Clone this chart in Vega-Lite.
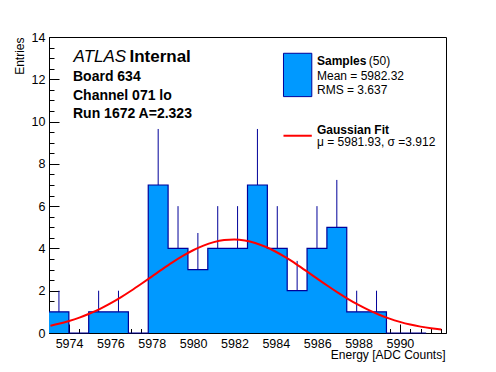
{
  "$schema": "https://vega.github.io/schema/vega-lite/v6.json",
  "width": 397,
  "height": 296,
  "autosize": {"type": "none"},
  "padding": {"left": 49, "top": 37, "right": 50, "bottom": 39},
  "background": "white",
  "config": {
    "view": {"stroke": "black", "strokeWidth": 1},
    "font": "Liberation Sans",
    "axis": {"grid": false, "domainColor": "black", "tickColor": "black", "labelColor": "black", "titleColor": "black", "labelFont": "Liberation Sans", "titleFont": "Liberation Sans"}
  },
  "resolve": {"axis": {"x": "independent", "y": "independent"}},
  "datasets": {
    "bins": [
      {"lo": 5973.03, "hi": 5973.99, "mid": 5973.51, "count": 1, "up": 2},
      {"lo": 5973.99, "hi": 5974.95, "mid": 5974.47, "count": 0, "up": 0},
      {"lo": 5974.95, "hi": 5975.91, "mid": 5975.43, "count": 1, "up": 2},
      {"lo": 5975.91, "hi": 5976.87, "mid": 5976.39, "count": 1, "up": 2},
      {"lo": 5976.87, "hi": 5977.83, "mid": 5977.35, "count": 0, "up": 0},
      {"lo": 5977.83, "hi": 5978.79, "mid": 5978.31, "count": 7, "up": 9.65},
      {"lo": 5978.79, "hi": 5979.75, "mid": 5979.27, "count": 4, "up": 6},
      {"lo": 5979.75, "hi": 5980.71, "mid": 5980.23, "count": 3, "up": 4.73},
      {"lo": 5980.71, "hi": 5981.67, "mid": 5981.19, "count": 4, "up": 6},
      {"lo": 5981.67, "hi": 5982.63, "mid": 5982.15, "count": 4, "up": 6},
      {"lo": 5982.63, "hi": 5983.59, "mid": 5983.11, "count": 7, "up": 9.65},
      {"lo": 5983.59, "hi": 5984.55, "mid": 5984.07, "count": 4, "up": 6},
      {"lo": 5984.55, "hi": 5985.51, "mid": 5985.03, "count": 2, "up": 3.41},
      {"lo": 5985.51, "hi": 5986.47, "mid": 5985.99, "count": 4, "up": 6},
      {"lo": 5986.47, "hi": 5987.43, "mid": 5986.95, "count": 5, "up": 7.24},
      {"lo": 5987.43, "hi": 5988.39, "mid": 5987.91, "count": 1, "up": 2},
      {"lo": 5988.39, "hi": 5989.35, "mid": 5988.87, "count": 1, "up": 2},
      {"lo": 5989.35, "hi": 5990.31, "mid": 5989.83, "count": 0, "up": 0},
      {"lo": 5990.31, "hi": 5991.27, "mid": 5990.79, "count": 0, "up": 0},
      {"lo": 5991.27, "hi": 5992.23, "mid": 5991.75, "count": 0, "up": 0}
    ],
    "fit": [
      {"x": 5973.1, "y": 0.346}, {"x": 5973.5, "y": 0.434}, {"x": 5974.0, "y": 0.567},
      {"x": 5974.5, "y": 0.728}, {"x": 5975.0, "y": 0.921}, {"x": 5975.5, "y": 1.145},
      {"x": 5976.0, "y": 1.401}, {"x": 5976.5, "y": 1.687}, {"x": 5977.0, "y": 1.998},
      {"x": 5977.5, "y": 2.328}, {"x": 5978.0, "y": 2.668}, {"x": 5978.5, "y": 3.010},
      {"x": 5979.0, "y": 3.339}, {"x": 5979.5, "y": 3.645}, {"x": 5980.0, "y": 3.913},
      {"x": 5980.5, "y": 4.134}, {"x": 5981.0, "y": 4.297}, {"x": 5981.5, "y": 4.393},
      {"x": 5982.0, "y": 4.419}, {"x": 5982.5, "y": 4.373}, {"x": 5983.0, "y": 4.258},
      {"x": 5983.5, "y": 4.078}, {"x": 5984.0, "y": 3.843}, {"x": 5984.5, "y": 3.562},
      {"x": 5985.0, "y": 3.248}, {"x": 5985.5, "y": 2.915}, {"x": 5986.0, "y": 2.573},
      {"x": 5986.5, "y": 2.234}, {"x": 5987.0, "y": 1.909}, {"x": 5987.5, "y": 1.604},
      {"x": 5988.0, "y": 1.326}, {"x": 5988.5, "y": 1.079}, {"x": 5989.0, "y": 0.863},
      {"x": 5989.5, "y": 0.680}, {"x": 5990.0, "y": 0.527}, {"x": 5990.5, "y": 0.401},
      {"x": 5991.0, "y": 0.301}, {"x": 5991.5, "y": 0.222}, {"x": 5992.0, "y": 0.161}
    ]
  },
  "layer": [
    {
      "data": {"name": "bins"},
      "mark": {"type": "area", "fill": "#0099ff", "interpolate": "step-after"},
      "encoding": {
        "x": {"field": "lo", "type": "quantitative",
          "scale": {"domain": [5973.03, 5992.23], "nice": false, "zero": false},
          "axis": {
            "orient": "bottom",
            "title": "Energy [ADC Counts]",
            "values": [5974, 5976, 5978, 5980, 5982, 5984, 5986, 5988, 5990],
            "format": "d",
            "tickSize": -9,
            "labelPadding": 13,
            "labelFontSize": 12.5,
            "labelOverlap": false,
            "labelFlush": false,
            "titleFontSize": 12,
            "titleFontWeight": "normal",
            "titleAlign": "right",
            "titleAnchor": "end",
            "titleBaseline": "alphabetic",
            "titleX": 396,
            "titleY": 25.5
          }
        },
        "y": {"field": "count", "type": "quantitative",
          "scale": {"domain": [0, 14], "nice": false},
          "axis": {
            "orient": "left",
            "title": "Entries",
            "values": [0, 2, 4, 6, 8, 10, 12, 14],
            "tickSize": -10,
            "labelPadding": 14,
            "labelFontSize": 12.5,
            "labelOverlap": false,
            "labelFlush": false,
            "titleFontSize": 12,
            "titleFontWeight": "normal",
            "titleAngle": 270,
            "titleAlign": "right",
            "titleBaseline": "alphabetic",
            "titleX": -25.5,
            "titleY": 0
          }
        },
        "y2": {"datum": 0}
      }
    },
    {
      "data": {"name": "bins"},
      "transform": [{"filter": "datum.count > 0"}],
      "mark": {"type": "rule", "color": "#000099", "strokeWidth": 1},
      "encoding": {
        "x": {"field": "mid", "type": "quantitative",
          "axis": {"orient": "bottom", "values": [5973.5, 5974.5, 5975, 5975.5, 5976.5, 5977, 5977.5, 5978.5, 5979, 5979.5, 5980.5, 5981, 5981.5, 5982.5, 5983, 5983.5, 5984.5, 5985, 5985.5, 5986.5, 5987, 5987.5, 5988.5, 5989, 5989.5, 5990.5, 5991, 5991.5, 5992], "tickSize": -4.5, "labels": false, "domain": false, "title": null}},
        "y": {"field": "count", "type": "quantitative",
          "axis": {"orient": "left", "values": [0.5, 1, 1.5, 2.5, 3, 3.5, 4.5, 5, 5.5, 6.5, 7, 7.5, 8.5, 9, 9.5, 10.5, 11, 11.5, 12.5, 13, 13.5], "tickSize": -5, "labels": false, "domain": false, "title": null}},
        "y2": {"field": "up"}
      }
    },
    {
      "data": {"name": "bins"},
      "mark": {"type": "line", "color": "#000099", "strokeWidth": 1.2, "interpolate": "step-after"},
      "encoding": {
        "x": {"field": "lo", "type": "quantitative", "axis": null},
        "y": {"field": "count", "type": "quantitative", "axis": null}
      }
    },
    {
      "data": {"name": "fit"},
      "mark": {"type": "line", "color": "#ff0000", "strokeWidth": 2, "interpolate": "monotone"},
      "encoding": {
        "x": {"field": "x", "type": "quantitative", "axis": null},
        "y": {"field": "y", "type": "quantitative", "axis": null}
      }
    },
    {
      "data": {"values": [{"t": "ATLAS"}]},
      "mark": {"type": "text", "align": "left", "baseline": "alphabetic", "fontSize": 17, "fontStyle": "italic", "font": "Liberation Sans", "color": "black"},
      "encoding": {"text": {"field": "t"}, "x": {"datum": 5974.22, "type": "quantitative", "axis": null}, "y": {"datum": 12.82, "type": "quantitative", "axis": null}}
    },
    {
      "data": {"values": [{"t": "Internal"}]},
      "mark": {"type": "text", "align": "left", "baseline": "alphabetic", "fontSize": 17, "fontWeight": "bold", "font": "Liberation Sans", "color": "black"},
      "encoding": {"text": {"field": "t"}, "x": {"datum": 5976.92, "type": "quantitative", "axis": null}, "y": {"datum": 12.82, "type": "quantitative", "axis": null}}
    },
    {
      "data": {"values": [{"t": "Board 634"}]},
      "mark": {"type": "text", "align": "left", "baseline": "alphabetic", "fontSize": 14, "fontWeight": "bold", "font": "Liberation Sans", "color": "black"},
      "encoding": {"text": {"field": "t"}, "x": {"datum": 5974.19, "type": "quantitative", "axis": null}, "y": {"datum": 11.93, "type": "quantitative", "axis": null}}
    },
    {
      "data": {"values": [{"t": "Channel 071 lo"}]},
      "mark": {"type": "text", "align": "left", "baseline": "alphabetic", "fontSize": 14, "fontWeight": "bold", "font": "Liberation Sans", "color": "black"},
      "encoding": {"text": {"field": "t"}, "x": {"datum": 5974.19, "type": "quantitative", "axis": null}, "y": {"datum": 11.04, "type": "quantitative", "axis": null}}
    },
    {
      "data": {"values": [{"t": "Run 1672 A=2.323"}]},
      "mark": {"type": "text", "align": "left", "baseline": "alphabetic", "fontSize": 14, "fontWeight": "bold", "font": "Liberation Sans", "color": "black"},
      "encoding": {"text": {"field": "t"}, "x": {"datum": 5974.19, "type": "quantitative", "axis": null}, "y": {"datum": 10.15, "type": "quantitative", "axis": null}}
    },
    {
      "data": {"values": [{"t": "legend box"}]},
      "mark": {"type": "rect", "fill": "#0099ff", "stroke": "#000099", "strokeWidth": 1},
      "encoding": {"x": {"datum": 5984.37, "type": "quantitative", "axis": null}, "x2": {"datum": 5985.74}, "y": {"datum": 13.23, "type": "quantitative", "axis": null}, "y2": {"datum": 11.18}}
    },
    {
      "data": {"values": [{"t": "Samples"}]},
      "mark": {"type": "text", "align": "left", "baseline": "alphabetic", "fontSize": 12, "fontWeight": "bold", "font": "Liberation Sans", "color": "black"},
      "encoding": {"text": {"field": "t"}, "x": {"datum": 5985.99, "type": "quantitative", "axis": null}, "y": {"datum": 12.66, "type": "quantitative", "axis": null}}
    },
    {
      "data": {"values": [{"t": "(50)"}]},
      "mark": {"type": "text", "align": "left", "baseline": "alphabetic", "fontSize": 12, "font": "Liberation Sans", "color": "black"},
      "encoding": {"text": {"field": "t"}, "x": {"datum": 5988.5, "type": "quantitative", "axis": null}, "y": {"datum": 12.66, "type": "quantitative", "axis": null}}
    },
    {
      "data": {"values": [{"t": "Mean = 5982.32"}]},
      "mark": {"type": "text", "align": "left", "baseline": "alphabetic", "fontSize": 12, "font": "Liberation Sans", "color": "black"},
      "encoding": {"text": {"field": "t"}, "x": {"datum": 5985.99, "type": "quantitative", "axis": null}, "y": {"datum": 11.97, "type": "quantitative", "axis": null}}
    },
    {
      "data": {"values": [{"t": "RMS = 3.637"}]},
      "mark": {"type": "text", "align": "left", "baseline": "alphabetic", "fontSize": 12, "font": "Liberation Sans", "color": "black"},
      "encoding": {"text": {"field": "t"}, "x": {"datum": 5985.99, "type": "quantitative", "axis": null}, "y": {"datum": 11.30, "type": "quantitative", "axis": null}}
    },
    {
      "data": {"values": [{"t": "legend line"}]},
      "mark": {"type": "rule", "color": "#ff0000", "strokeWidth": 2},
      "encoding": {"x": {"datum": 5984.37, "type": "quantitative", "axis": null}, "x2": {"datum": 5985.74}, "y": {"datum": 9.33, "type": "quantitative", "axis": null}}
    },
    {
      "data": {"values": [{"t": "Gaussian Fit"}]},
      "mark": {"type": "text", "align": "left", "baseline": "alphabetic", "fontSize": 12, "fontWeight": "bold", "font": "Liberation Sans", "color": "black"},
      "encoding": {"text": {"field": "t"}, "x": {"datum": 5985.99, "type": "quantitative", "axis": null}, "y": {"datum": 9.41, "type": "quantitative", "axis": null}}
    },
    {
      "data": {"values": [{"t": "μ = 5981.93, σ =3.912"}]},
      "mark": {"type": "text", "align": "left", "baseline": "alphabetic", "fontSize": 12, "font": "Liberation Sans", "color": "black"},
      "encoding": {"text": {"field": "t"}, "x": {"datum": 5985.99, "type": "quantitative", "axis": null}, "y": {"datum": 8.85, "type": "quantitative", "axis": null}}
    }
  ]
}
